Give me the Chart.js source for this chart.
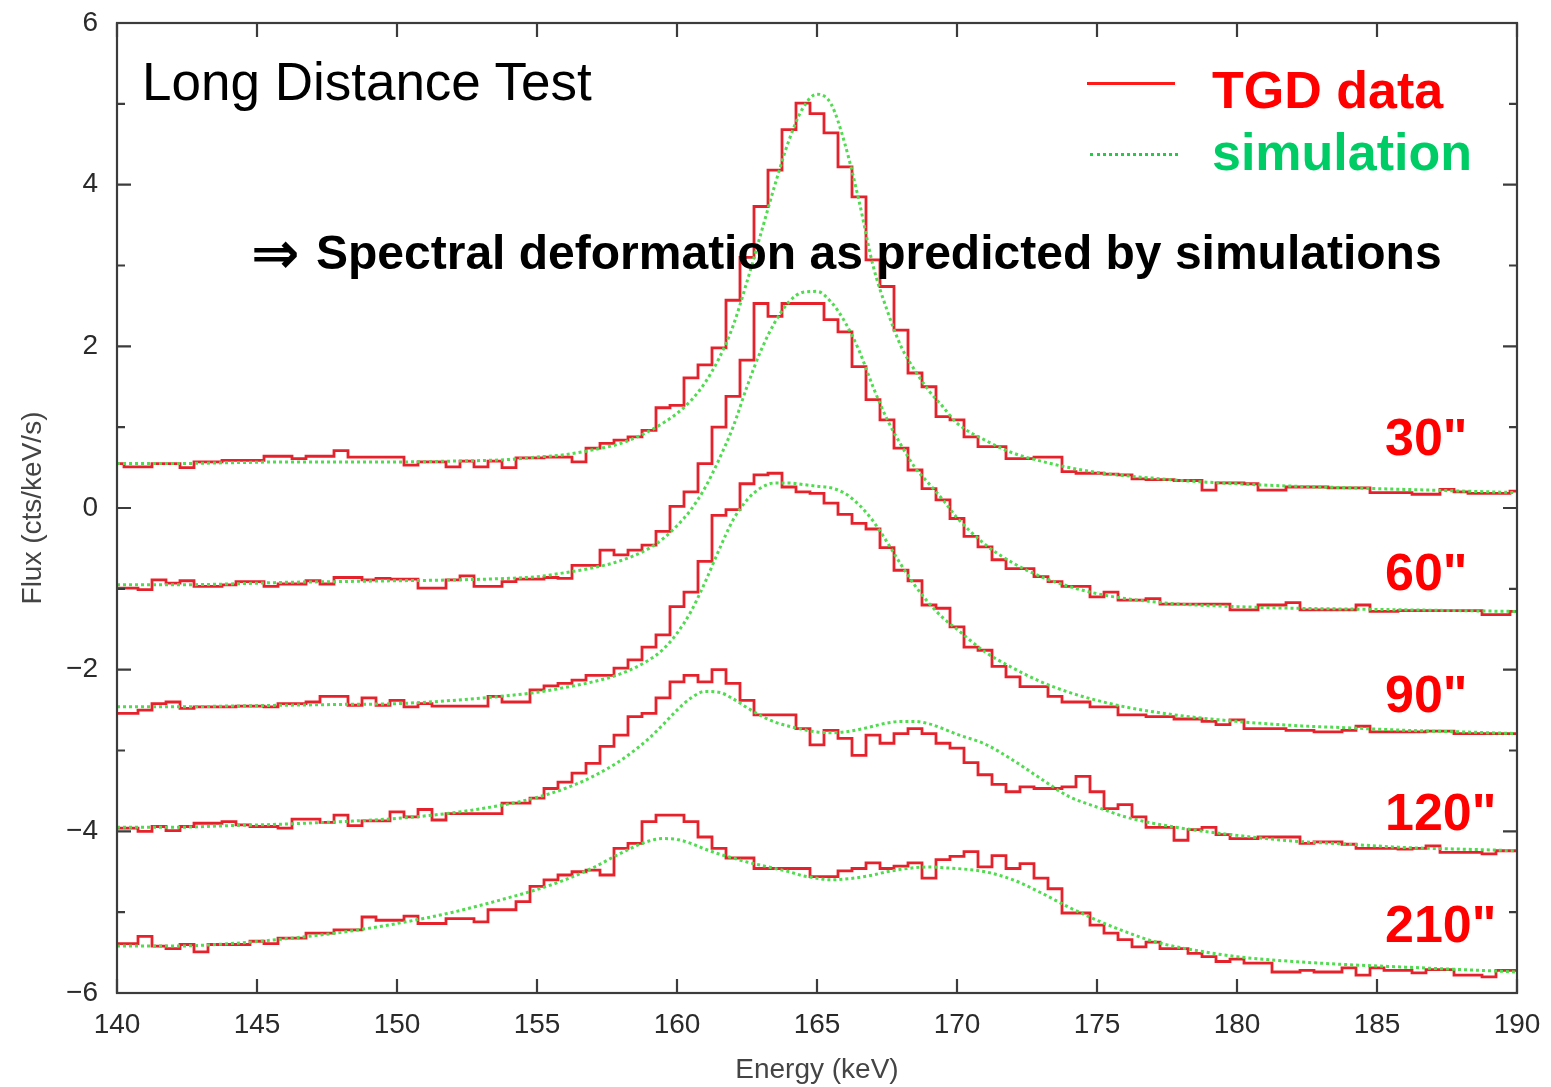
<!DOCTYPE html>
<html><head><meta charset="utf-8">
<script src="https://cdn.jsdelivr.net/npm/chart.js"></script>
<style>
html,body{margin:0;padding:0;background:#fff;}
#wrap{position:relative;width:1551px;height:1087px;overflow:hidden;font-family:"Liberation Sans",Arial,Helvetica,sans-serif;}
canvas{position:absolute;left:0;top:0;}
.t{position:absolute;line-height:1;white-space:nowrap;}
.b{font-weight:bold;}
</style></head><body>
<div id="wrap">
<canvas id="c" width="1551" height="1087"></canvas>
<div class="t" style="left:142px;top:55px;font-size:53px;color:#000;">Long Distance Test</div>
<div class="t b" style="left:251px;top:224px;font-size:58px;color:#000;font-family:'DejaVu Sans',sans-serif;">&#8658;</div>
<div class="t b" style="left:316px;top:229px;font-size:48px;color:#000;">Spectral deformation as predicted by simulations</div>
<div style="position:absolute;left:1087px;top:82px;width:88px;height:3px;background:#ff1a1a;"></div>
<div style="position:absolute;left:1090px;top:153px;width:88px;height:0;border-top:3px dotted #22cc44;"></div>
<div class="t b" style="left:1212px;top:64px;font-size:52px;color:#ff0000;">TGD data</div>
<div class="t b" style="left:1212px;top:126px;font-size:52px;color:#00cc66;">simulation</div>
<div class="t b" style="left:1385px;top:411px;font-size:52px;color:#ff0000;">30"</div>
<div class="t b" style="left:1385px;top:546px;font-size:52px;color:#ff0000;">60"</div>
<div class="t b" style="left:1385px;top:668px;font-size:52px;color:#ff0000;">90"</div>
<div class="t b" style="left:1385px;top:786px;font-size:52px;color:#ff0000;">120"</div>
<div class="t b" style="left:1385px;top:898px;font-size:52px;color:#ff0000;">210"</div>
</div>
<script>
// bin centres (keV) of the measured histograms
const energies = [
140,140.5,141,141.5,142,142.5,143,143.5,144,144.5,
145,145.5,146,146.5,147,147.5,148,148.5,149,149.5,
150,150.5,151,151.5,152,152.5,153,153.5,154,154.5,
155,155.5,156,156.5,157,157.5,158,158.5,159,159.5,
160,160.5,161,161.5,162,162.5,163,163.5,164,164.5,
165,165.5,166,166.5,167,167.5,168,168.5,169,169.5,
170,170.5,171,171.5,172,172.5,173,173.5,174,174.5,
175,175.5,176,176.5,177,177.5,178,178.5,179,179.5,
180,180.5,181,181.5,182,182.5,183,183.5,184,184.5,
185,185.5,186,186.5,187,187.5,188,188.5,189,189.5,
190];

// TGD data (offset flux, cts/keV/s)
const tgd30 = [
0.55,0.51,0.51,0.55,0.55,0.50,0.57,0.57,0.59,0.59,
0.59,0.64,0.64,0.61,0.64,0.64,0.71,0.63,0.63,0.63,
0.63,0.53,0.57,0.57,0.51,0.58,0.51,0.58,0.50,0.62,
0.62,0.63,0.63,0.57,0.74,0.80,0.84,0.88,0.96,1.24,
1.27,1.61,1.77,1.98,2.57,3.10,3.73,4.18,4.68,5.01,
4.88,4.64,4.22,3.85,3.07,2.74,2.20,1.67,1.50,1.13,
1.09,0.88,0.76,0.76,0.61,0.61,0.63,0.63,0.45,0.43,
0.43,0.42,0.41,0.36,0.35,0.35,0.34,0.34,0.22,0.31,
0.31,0.30,0.22,0.22,0.26,0.26,0.26,0.25,0.25,0.25,
0.19,0.19,0.19,0.17,0.17,0.23,0.20,0.18,0.18,0.18,
0.21];
const tgd60 = [
-0.99,-0.99,-1.01,-0.89,-0.93,-0.90,-0.97,-0.97,-0.95,-0.91,
-0.91,-0.97,-0.94,-0.94,-0.90,-0.94,-0.86,-0.86,-0.89,-0.87,
-0.88,-0.88,-0.99,-0.99,-0.89,-0.84,-0.97,-0.97,-0.91,-0.88,
-0.88,-0.86,-0.87,-0.71,-0.71,-0.52,-0.58,-0.52,-0.46,-0.29,
0.02,0.20,0.55,1.00,1.38,1.83,2.53,2.37,2.53,2.53,
2.53,2.33,2.18,1.75,1.34,1.09,0.74,0.47,0.24,0.10,
-0.13,-0.35,-0.48,-0.64,-0.75,-0.75,-0.85,-0.91,-0.97,-0.97,
-1.10,-1.04,-1.14,-1.14,-1.12,-1.19,-1.19,-1.19,-1.19,-1.19,
-1.26,-1.26,-1.20,-1.20,-1.17,-1.26,-1.26,-1.26,-1.26,-1.20,
-1.28,-1.28,-1.27,-1.27,-1.27,-1.27,-1.27,-1.27,-1.32,-1.32,
-1.28];
const tgd90 = [
-2.54,-2.54,-2.50,-2.42,-2.40,-2.48,-2.46,-2.46,-2.46,-2.45,
-2.45,-2.46,-2.42,-2.42,-2.40,-2.33,-2.33,-2.44,-2.35,-2.44,
-2.38,-2.46,-2.42,-2.45,-2.45,-2.45,-2.45,-2.33,-2.40,-2.40,
-2.25,-2.20,-2.17,-2.13,-2.07,-2.07,-1.98,-1.88,-1.72,-1.57,
-1.22,-1.04,-0.66,-0.09,-0.02,0.30,0.41,0.43,0.26,0.20,
0.18,0.06,-0.08,-0.19,-0.26,-0.49,-0.77,-0.90,-1.20,-1.24,
-1.47,-1.72,-1.76,-1.96,-2.09,-2.21,-2.21,-2.33,-2.40,-2.40,
-2.46,-2.46,-2.56,-2.56,-2.58,-2.58,-2.61,-2.61,-2.64,-2.68,
-2.62,-2.73,-2.73,-2.73,-2.75,-2.75,-2.77,-2.77,-2.75,-2.70,
-2.77,-2.77,-2.77,-2.77,-2.76,-2.76,-2.79,-2.79,-2.79,-2.79,
-2.79];
const tgd120 = [
-3.96,-3.96,-4.00,-3.94,-3.99,-3.94,-3.90,-3.90,-3.88,-3.92,
-3.94,-3.94,-3.96,-3.85,-3.85,-3.89,-3.80,-3.93,-3.87,-3.87,
-3.76,-3.82,-3.73,-3.86,-3.78,-3.78,-3.78,-3.78,-3.65,-3.65,
-3.59,-3.47,-3.39,-3.28,-3.16,-2.95,-2.81,-2.58,-2.54,-2.35,
-2.15,-2.07,-2.15,-2.00,-2.17,-2.38,-2.56,-2.56,-2.56,-2.73,
-2.93,-2.75,-2.85,-3.06,-2.81,-2.91,-2.79,-2.73,-2.79,-2.91,
-2.97,-3.15,-3.30,-3.42,-3.51,-3.45,-3.47,-3.47,-3.45,-3.32,
-3.51,-3.72,-3.67,-3.82,-3.95,-3.95,-4.11,-3.98,-3.95,-4.04,
-4.09,-4.09,-4.07,-4.07,-4.07,-4.15,-4.13,-4.13,-4.16,-4.21,
-4.21,-4.21,-4.22,-4.21,-4.18,-4.26,-4.26,-4.26,-4.28,-4.24,
-4.24];
const tgd210 = [
-5.39,-5.39,-5.30,-5.42,-5.45,-5.40,-5.49,-5.40,-5.40,-5.40,
-5.36,-5.39,-5.32,-5.32,-5.26,-5.26,-5.22,-5.22,-5.06,-5.10,
-5.10,-5.05,-5.14,-5.14,-5.08,-5.08,-5.12,-4.97,-4.97,-4.87,
-4.68,-4.60,-4.54,-4.50,-4.48,-4.54,-4.21,-4.15,-3.88,-3.80,
-3.80,-3.88,-4.07,-4.21,-4.33,-4.33,-4.46,-4.46,-4.46,-4.46,
-4.56,-4.56,-4.49,-4.46,-4.39,-4.46,-4.43,-4.39,-4.58,-4.35,
-4.31,-4.25,-4.44,-4.30,-4.46,-4.40,-4.58,-4.71,-5.01,-5.01,
-5.16,-5.26,-5.34,-5.43,-5.37,-5.45,-5.45,-5.51,-5.55,-5.61,
-5.58,-5.63,-5.63,-5.74,-5.74,-5.72,-5.74,-5.74,-5.69,-5.78,
-5.69,-5.72,-5.72,-5.75,-5.71,-5.71,-5.78,-5.78,-5.80,-5.72,
-5.72];

// simulation curves (sampled energies)
const simEnergies = [140,142,144,146,148,150,152,154,155,156,157,158,159,
159.5,160,160.5,161,161.5,162,162.5,163,163.5,164,164.5,165,165.5,166,166.5,167,167.5,168,168.5,169,169.5,170,
171,172,173,174,175,176,177,178,180,182,184,186,188,190];
const sim30 = [0.55,0.55,0.56,0.57,0.57,0.57,0.58,0.60,0.63,0.66,0.72,0.80,0.95,
1.05,1.17,1.33,1.55,1.85,2.25,2.80,3.40,4.00,4.55,4.95,5.12,5.00,4.50,3.80,3.00,2.45,2.00,1.70,1.45,1.25,1.05,
0.84,0.68,0.58,0.50,0.44,0.40,0.37,0.34,0.30,0.27,0.25,0.23,0.21,0.19];
const sim60 = [-0.95,-0.95,-0.94,-0.92,-0.91,-0.90,-0.89,-0.87,-0.85,-0.80,-0.74,-0.65,-0.50,
-0.38,-0.22,-0.02,0.25,0.60,1.00,1.50,1.95,2.30,2.55,2.67,2.68,2.55,2.30,1.95,1.50,1.10,0.78,0.50,0.30,0.10,-0.12,
-0.45,-0.68,-0.85,-0.97,-1.06,-1.12,-1.16,-1.19,-1.22,-1.24,-1.25,-1.26,-1.27,-1.28];
const sim90 = [-2.46,-2.46,-2.45,-2.44,-2.43,-2.42,-2.38,-2.32,-2.28,-2.22,-2.15,-2.05,-1.88,
-1.75,-1.55,-1.28,-0.92,-0.52,-0.15,0.10,0.25,0.31,0.31,0.29,0.27,0.25,0.18,0.04,-0.16,-0.42,-0.70,-0.96,-1.18,-1.36,-1.50,
-1.78,-1.98,-2.15,-2.28,-2.38,-2.46,-2.52,-2.57,-2.64,-2.69,-2.72,-2.75,-2.77,-2.79];
const sim120 = [-3.95,-3.95,-3.93,-3.91,-3.88,-3.84,-3.77,-3.66,-3.58,-3.47,-3.32,-3.12,-2.85,
-2.68,-2.50,-2.35,-2.27,-2.28,-2.36,-2.47,-2.57,-2.65,-2.70,-2.74,-2.77,-2.78,-2.77,-2.74,-2.70,-2.66,-2.64,-2.64,-2.67,-2.73,-2.80,
-2.92,-3.12,-3.35,-3.57,-3.70,-3.82,-3.90,-3.96,-4.05,-4.12,-4.16,-4.20,-4.22,-4.24];
const sim210 = [-5.42,-5.42,-5.39,-5.33,-5.25,-5.14,-5.00,-4.82,-4.72,-4.60,-4.45,-4.27,-4.12,
-4.09,-4.10,-4.15,-4.22,-4.28,-4.33,-4.38,-4.42,-4.46,-4.50,-4.55,-4.58,-4.60,-4.59,-4.57,-4.54,-4.50,-4.47,-4.45,-4.44,-4.45,-4.46,
-4.50,-4.60,-4.76,-4.94,-5.10,-5.24,-5.36,-5.44,-5.55,-5.61,-5.65,-5.68,-5.71,-5.74];

const xTickValues = [140,145,150,155,160,165,170,175,180,185,190];
const yTickValues = [-6,-5,-4,-3,-2,-1,0,1,2,3,4,5,6];
const yLabelValues = [-6,-4,-2,0,2,4,6];

const RED = '#e5222b';
const GREEN = '#4fdc4f';

function pts(xs, ys){ return xs.map((e,i)=>({x:e,y:ys[i]})); }
function redSet(vals){
  return {data: pts(energies, vals), borderColor: RED, borderWidth: 2.8, stepped: 'middle',
          pointRadius: 0, fill: false, order: 1};
}
function greenSet(vals){
  return {data: pts(simEnergies, vals), borderColor: GREEN, borderWidth: 3, borderDash: [3,3],
          cubicInterpolationMode: 'monotone', pointRadius: 0, fill: false, order: 0};
}

const frameTicks = {
  id: 'frameTicks',
  afterDatasetsDraw(chart){
    const {ctx, chartArea: a, scales: {x, y}} = chart;
    ctx.save();
    ctx.strokeStyle = '#3c3c3c';
    ctx.lineWidth = 2.2;
    ctx.beginPath();
    xTickValues.forEach(v => {
      const px = x.getPixelForValue(v);
      ctx.moveTo(px, a.bottom); ctx.lineTo(px, a.bottom - 14);
      ctx.moveTo(px, a.top); ctx.lineTo(px, a.top + 14);
    });
    yTickValues.forEach(v => {
      const py = y.getPixelForValue(v);
      const len = (v % 2 === 0) ? 14 : 8;
      ctx.moveTo(a.left, py); ctx.lineTo(a.left + len, py);
      ctx.moveTo(a.right, py); ctx.lineTo(a.right - len, py);
    });
    ctx.stroke();
    ctx.strokeRect(a.left, a.top, a.right - a.left, a.bottom - a.top);
    ctx.restore();
  }
};

const FONT = '"Liberation Sans", Arial, Helvetica, sans-serif';
new Chart(document.getElementById('c'), {
  type: 'line',
  data: { datasets: [
    greenSet(sim30), greenSet(sim60), greenSet(sim90), greenSet(sim120), greenSet(sim210),
    redSet(tgd30), redSet(tgd60), redSet(tgd90), redSet(tgd120), redSet(tgd210)
  ]},
  options: {
    responsive: false, animation: false, devicePixelRatio: 1,
    layout: { padding: { left: 0, top: 23, right: 34, bottom: 0 } },
    plugins: { legend: { display: false }, tooltip: { enabled: false } },
    scales: {
      x: {
        type: 'linear', min: 140, max: 190,
        afterBuildTicks(s){ s.ticks = xTickValues.map(v => ({value: v})); },
        afterFit(s){ s.height = 94; s.paddingLeft = 0; s.paddingRight = 0; },
        grid: { display: false, drawTicks: false },
        border: { display: false },
        ticks: { padding: 15, color: '#2a2a2a', font: { family: FONT, size: 28 }, maxRotation: 0, autoSkip: false,
                 callback: v => String(v) },
        title: { display: true, text: 'Energy (keV)', color: '#444', padding: { top: 0, bottom: 0 },
                 font: { family: FONT, size: 28 } }
      },
      y: {
        type: 'linear', min: -6, max: 6,
        afterBuildTicks(s){ s.ticks = yLabelValues.map(v => ({value: v})); },
        afterFit(s){ s.width = 117; s.paddingTop = 0; s.paddingBottom = 0; },
        grid: { display: false, drawTicks: false },
        border: { display: false },
        ticks: { padding: 19, color: '#2a2a2a', font: { family: FONT, size: 28 }, autoSkip: false,
                 callback: v => (v < 0 ? '\u2212' + Math.abs(v) : String(v)) },
        title: { display: true, text: 'Flux (cts/keV/s)', color: '#444', padding: { top: 16, bottom: 0 },
                 font: { family: FONT, size: 28 } }
      }
    }
  },
  plugins: [frameTicks]
});
</script>
</body></html>
